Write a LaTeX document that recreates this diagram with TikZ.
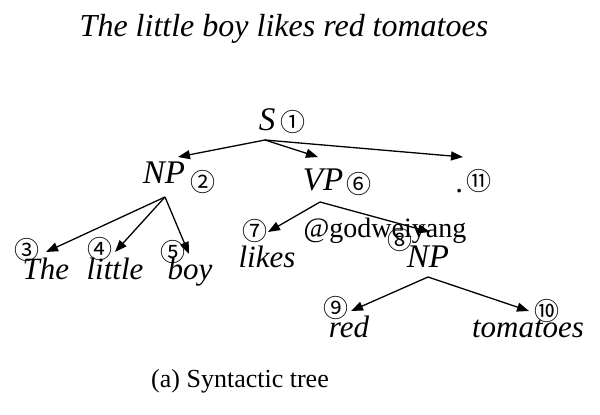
\documentclass[tikz,border=0pt]{standalone}
\usepackage{fontspec}
\setmainfont{Liberation Serif}
\newfontfamily\circfont{Noto Sans CJK SC}
\usetikzlibrary{arrows.meta}
\tikzset{
  lbl/.style={inner sep=0pt, anchor=base, font=\fontsize{31}{31}\selectfont\itshape},
  cat/.style={inner sep=0pt, anchor=base, font=\fontsize{33}{33}\selectfont\itshape},
  num/.style={inner sep=0pt, font=\circfont\fontsize{25}{25}\selectfont},
  edge/.style={line width=1.3pt, -{Triangle[length=12pt,width=9pt]}},
}
\begin{document}
\begin{tikzpicture}[x=1pt,y=-1pt]
\useasboundingbox (0,0) rectangle (600,415);
% title
\node[inner sep=0pt, anchor=base, font=\fontsize{32}{32}\selectfont\itshape] (title) at (284,36) {The little boy likes red tomatoes};
% labels
\node[cat] (S) at (267,130) {S};
\node[num] (n1) at (293,122) {①};
\node[cat] (NP1) at (164,183) {NP};
\node[num] (n2) at (203,182) {②};
\node[cat] (VP) at (323,190) {VP};
\node[num] (n6) at (359,184) {⑥};
\node[lbl] (dot) at (460,192) {.};
\node[num] (n11) at (479,181) {⑪};
\node[lbl] (The) at (46,279) {The};
\node[lbl] (little) at (115,279) {little};
\node[lbl] (boy) at (190,279) {boy};
\node[num] (n3) at (27,250) {③};
\node[num] (n4) at (100,249) {④};
\node[num] (n5) at (173,252) {⑤};
\node[lbl] (likes) at (267,267) {likes};
\node[num] (n7) at (255,231) {⑦};
\node[cat] (NP2) at (428,267) {NP};
\node[num] (n8) at (400,240) {⑧};
\node[lbl] (red) at (349,337) {red};
\node[num] (n9) at (336,308) {⑨};
\node[lbl] (tomatoes) at (528,337) {tomatoes};
\node[num] (n10) at (547,311) {⑩};
% watermark
\node[inner sep=0pt, anchor=base, font=\fontsize{28}{28}\selectfont] (wm) at (385,237) {@godweiyang};
% caption
\node[inner sep=0pt, anchor=base, font=\fontsize{26}{26}\selectfont] (cap) at (240,387) {(a) Syntactic tree};
% branch points and arrow tips
\coordinate (Sb) at (265,140);
\coordinate (NP1b) at (165,197);
\coordinate (VPb) at (320,202);
\coordinate (NP2b) at (428,277);
\coordinate (tNP1) at (178,157);
\coordinate (tVP) at (318,157);
\coordinate (tdot) at (463,157);
\coordinate (tThe) at (46,252);
\coordinate (tlittle) at (115,252);
\coordinate (tboy) at (189,254);
\coordinate (tlikes) at (268,232);
\coordinate (tNP2) at (430,232);
\coordinate (tred) at (351,311);
\coordinate (ttom) at (529,311);
\draw[edge] (Sb) -- (tNP1);
\draw[edge] (Sb) -- (tVP);
\draw[edge] (Sb) -- (tdot);
\draw[edge] (NP1b) -- (tThe);
\draw[edge] (NP1b) -- (tlittle);
\draw[edge] (NP1b) -- (tboy);
\draw[edge] (VPb) -- (tlikes);
\draw[edge] (VPb) -- (tNP2);
\draw[edge] (NP2b) -- (tred);
\draw[edge] (NP2b) -- (ttom);
\end{tikzpicture}
\end{document}
